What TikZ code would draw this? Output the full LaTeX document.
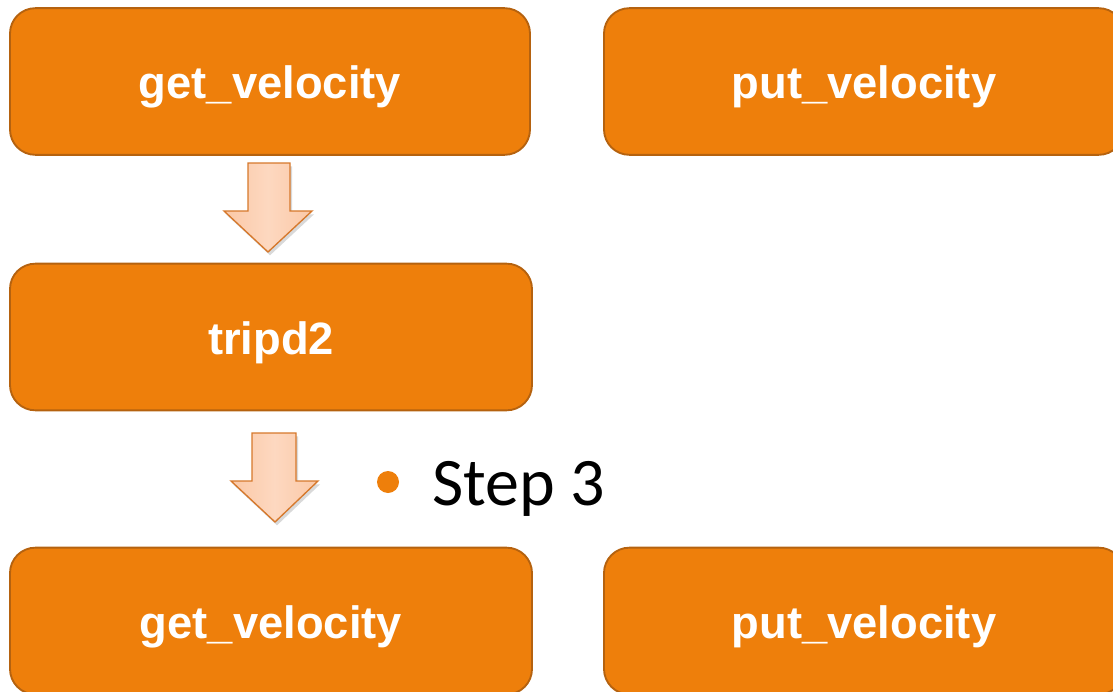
\documentclass[tikz,border=0pt]{standalone}
\usepackage{fontspec}
\setmainfont{Liberation Sans}
\newfontfamily\stepfont{Carlito}
\usetikzlibrary{shadows}
\definecolor{boxfill}{HTML}{EE7F0B}
\definecolor{boxedge}{HTML}{B5620F}
\definecolor{arrowedge}{HTML}{D6782B}
\definecolor{arrowlight}{HTML}{FDD8C0}
\definecolor{arrowmid}{HTML}{FBC8A6}
\tikzset{
  procbox/.style={rectangle, rounded corners=19pt, fill=boxfill, draw=boxedge,
    line width=1.4pt, minimum width=390pt, minimum height=110pt,
    text height=33pt, text depth=7pt,
    text=white, font=\fontsize{34}{38}\selectfont\bfseries},
  blockarrow/.style={draw=arrowedge, line width=1pt, left color=arrowmid,
    right color=arrowmid, middle color=arrowlight,
    drop shadow={shadow xshift=1.5pt, shadow yshift=-2.5pt, opacity=0.3}},
  bulletdot/.style={circle, fill=boxfill, inner sep=0pt, minimum size=16.5pt},
  steptext/.style={font=\stepfont\fontsize{51}{60}\selectfont, text=black, inner sep=0pt}
}
\begin{document}
\begin{tikzpicture}[x=0.75pt,y=-0.75pt]
\useasboundingbox (0,0) rectangle (1113,692);
\node[procbox] (getA) at (270,81.5) {get\_velocity};
\node[procbox] (putA) at (864,81.5) {put\_velocity};
\node[procbox, minimum width=391.5pt] (trip) at (271,337) {tripd2};
\node[procbox, minimum width=391.5pt] (getB) at (271,621) {get\_velocity};
\node[procbox] (putB) at (864,621) {put\_velocity};
% block arrows
\draw[blockarrow] (248,163) -- (290,163) -- (290,211) -- (312,211) -- (268,252)
  -- (224,211) -- (248,211) -- cycle;
\draw[blockarrow] (252,433) -- (296,433) -- (296,481) -- (318,481) -- (275,522)
  -- (231,481) -- (252,481) -- cycle;
% bullet text
\node[bulletdot] (dot) at (388,482) {};
\node[steptext, anchor=base west] (step) at (432,505) {Step 3};
\end{tikzpicture}
\end{document}
